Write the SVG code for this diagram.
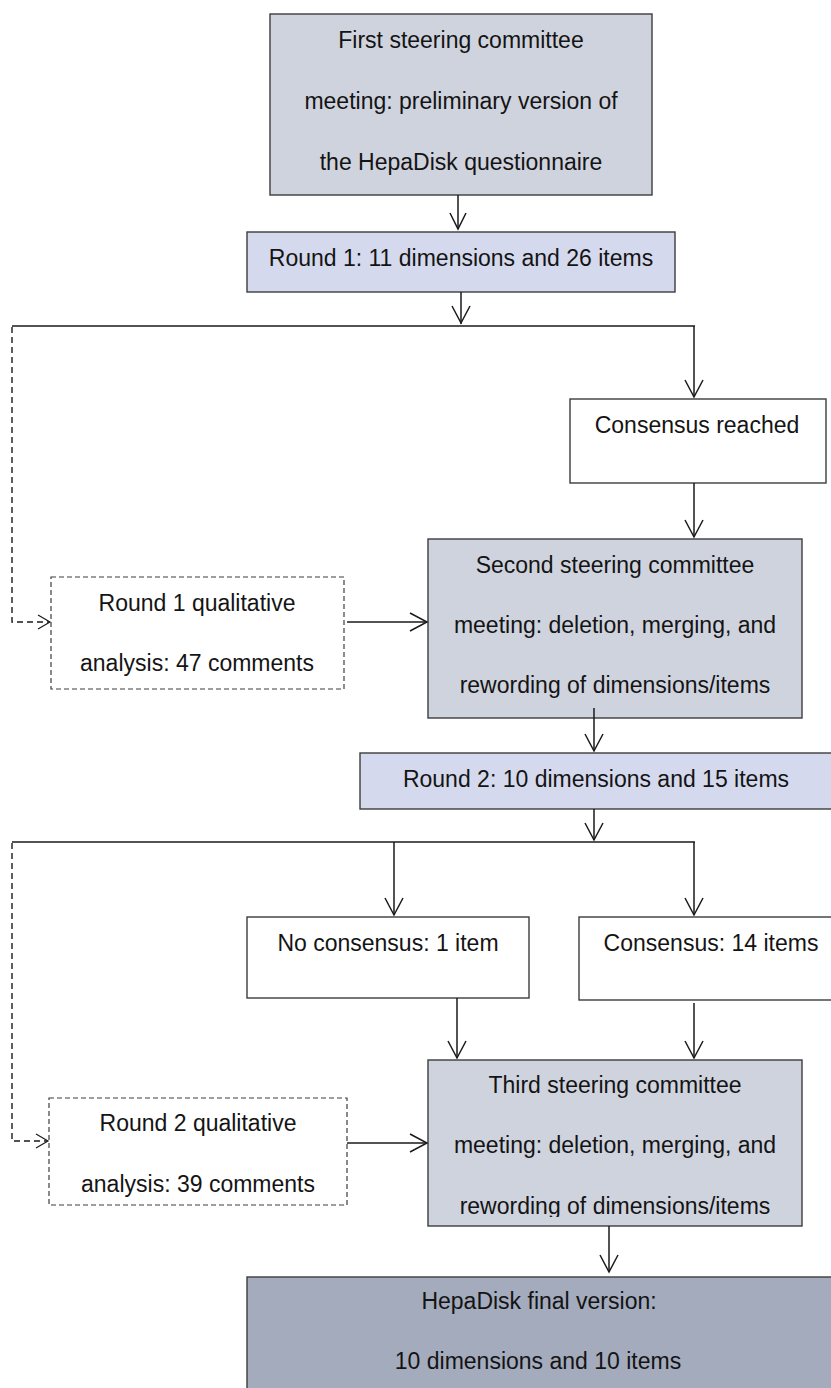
<svg xmlns="http://www.w3.org/2000/svg" width="831" height="1388" viewBox="0 0 831 1388">
<style>
.box{stroke:#3c3c3c;stroke-width:1.4}
.g1{fill:#cfd3de}
.g2{fill:#d5d9ed}
.g3{fill:#a3abbd}
.w{fill:#ffffff}
.dash{fill:#ffffff;stroke:#3c3c3c;stroke-width:1.2;stroke-dasharray:5 3}
text{font-family:"Liberation Sans",Arial,sans-serif;font-size:23px;fill:#141414;text-anchor:middle}
.ln{fill:none;stroke:#1a1a1a;stroke-width:1.5}
.dl{fill:none;stroke:#1a1a1a;stroke-width:1.4;stroke-dasharray:6 4}
.ah{fill:none;stroke:#1a1a1a;stroke-width:1.5}
</style>
<defs>
<clipPath id="clip3"><rect x="428" y="1060" width="374" height="157"/></clipPath>
</defs>

<g id="n1">
<rect class="box g1" x="270" y="14" width="382" height="181"/>
<text x="461" y="48">First steering committee</text>
<text x="461" y="109">meeting: preliminary version of</text>
<text x="461" y="170">the HepaDisk questionnaire</text>
</g>

<g id="n2">
<rect class="box g2" x="247" y="232" width="428" height="60"/>
<text x="461" y="266">Round 1: 11 dimensions and 26 items</text>
</g>

<g id="n3">
<rect class="box w" x="570" y="399" width="256" height="84"/>
<text x="697" y="433">Consensus reached</text>
</g>

<g id="n4">
<rect class="dash" x="51" y="577" width="293" height="112"/>
<text x="197" y="611">Round 1 qualitative</text>
<text x="197" y="671">analysis: 47 comments</text>
</g>

<g id="n5">
<rect class="box g1" x="428" y="539" width="374" height="179"/>
<text x="615" y="573">Second steering committee</text>
<text x="615" y="633">meeting: deletion, merging, and</text>
<text x="615" y="693">rewording of dimensions/items</text>
</g>

<g id="n6">
<rect class="box g2" x="360" y="753" width="472" height="56"/>
<text x="596" y="787">Round 2: 10 dimensions and 15 items</text>
</g>

<g id="n7">
<rect class="box w" x="247" y="917" width="282" height="81"/>
<text x="388" y="951">No consensus: 1 item</text>
</g>

<g id="n8">
<rect class="box w" x="579" y="917" width="253" height="83"/>
<text x="711" y="951">Consensus: 14 items</text>
</g>

<g id="n9">
<rect class="dash" x="49" y="1098" width="298" height="107"/>
<text x="198" y="1131">Round 2 qualitative</text>
<text x="198" y="1192">analysis: 39 comments</text>
</g>

<g id="n10">
<rect class="box g1" x="428" y="1060" width="374" height="166"/>
<g clip-path="url(#clip3)">
<text x="615" y="1093">Third steering committee</text>
<text x="615" y="1153">meeting: deletion, merging, and</text>
<text x="615" y="1214">rewording of dimensions/items</text>
</g>
</g>

<g id="n11">
<rect class="box g3" x="247" y="1277" width="585" height="112"/>
<text x="539" y="1309">HepaDisk final version:</text>
<text x="538" y="1369">10 dimensions and 10 items</text>
</g>

<g id="connectors">
<path class="ln" d="M458 195 V229"/>
<path class="ah" d="M450 213 L458 229 L466 213"/>
<path class="ln" d="M461 292 V324"/>
<path class="ah" d="M452 306 L461 323 L470 306"/>
<path class="ln" d="M12 326 H695"/>
<path class="ln" d="M694 326 V397"/>
<path class="ah" d="M685 380 L694 397 L703 380"/>
<path class="ln" d="M694 483 V537"/>
<path class="ah" d="M685 520 L694 537 L703 520"/>
<path class="dl" d="M12 327 V622 H49"/>
<path class="ah" d="M38 615 L50 622 L38 629" style="stroke-width:1.2"/>
<path class="ln" d="M347 622 H426"/>
<path class="ah" d="M410 613 L427 622 L410 631"/>
<path class="ln" d="M594 708 V751"/>
<path class="ah" d="M585 734 L594 751 L603 734"/>
<path class="ln" d="M594 809 V840"/>
<path class="ah" d="M585 823 L594 840 L603 823"/>
<path class="ln" d="M12 842 H695"/>
<path class="ln" d="M394 842 V915"/>
<path class="ah" d="M385 898 L394 915 L403 898"/>
<path class="ln" d="M694 842 V915"/>
<path class="ah" d="M685 898 L694 915 L703 898"/>
<path class="ln" d="M457 998 V1058"/>
<path class="ah" d="M448 1041 L457 1058 L466 1041"/>
<path class="ln" d="M694 1003 V1058"/>
<path class="ah" d="M685 1041 L694 1058 L703 1041"/>
<path class="dl" d="M12 843 V1141 H47"/>
<path class="ah" d="M36 1134 L48 1141 L36 1148" style="stroke-width:1.2"/>
<path class="ln" d="M347 1143 H426"/>
<path class="ah" d="M410 1134 L427 1143 L410 1152"/>
<path class="ln" d="M609 1226 V1272"/>
<path class="ah" d="M600 1255 L609 1272 L618 1255"/>
</g>
</svg>
